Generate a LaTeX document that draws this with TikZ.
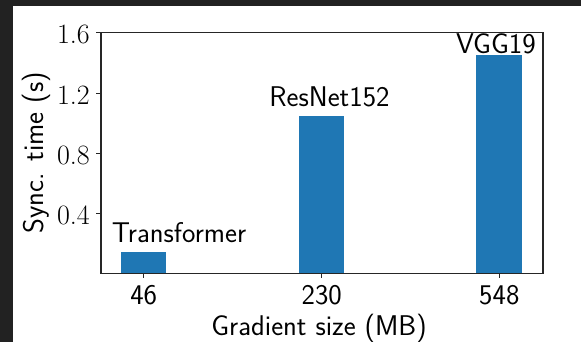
\documentclass[tikz,border=0pt]{standalone}
\usepackage{fontspec}
\definecolor{tabblue}{HTML}{1F77B4}
\definecolor{darkbg}{HTML}{222222}
\definecolor{axisc}{HTML}{262626}
\begin{document}
\begin{tikzpicture}[x=1pt,y=-1pt,
  lbl/.style={font=\sffamily\fontsize{28.5}{32}\selectfont, inner sep=0pt, text=black},
  ticklbl/.style={font=\rmfamily\fontsize{28}{32}\selectfont, inner sep=0pt, text=black},
  axisline/.style={draw=axisc, line width=1.3pt},
  bar/.style={fill=tabblue}]
\useasboundingbox (0,0) rectangle (581,342);
\fill[darkbg] (0,0) rectangle (581,342);
\fill[white] (13,6) rectangle (581,342);
% bars
\fill[bar] (120.7,273.3) rectangle (166.3,251.7);
\fill[bar] (298.5,273.3) rectangle (344.3,116);
\fill[bar] (476.3,273.3) rectangle (522.3,55);
% frame
\draw[axisline] (101,32.3) rectangle (543,273.3);
% y ticks
\foreach \yy/\lab/\nm in {32.3/1.6/ya, 93.3/1.2/yb, 153.3/0.8/yc, 213.3/0.4/yd}{
  \draw[axisline] (96,\yy) -- (101,\yy);
  \node[ticklbl, anchor=east] (\nm) at (90,\yy+2) {\lab};
}
% x ticks
\foreach \xx/\lab/\nm in {143.7/46/xa, 321.7/230/xb, 499.3/548/xc}{
  \draw[axisline] (\xx,273.3) -- (\xx,278.3);
  \node[lbl, anchor=base] (\nm) at (\xx,304) {\lab};
}
% bar labels
\node[lbl, anchor=base] (tr) at (179,242.7) {Transformer};
\node[lbl, anchor=base] (rn) at (329.5,106.7) {ResNet152};
\node[lbl, anchor=base] (vg) at (495.9,54) {VGG19};
% axis labels
\node[lbl, anchor=base] (xl) at (319,335) {Gradient size (MB)};
\node[lbl, rotate=90, anchor=center] (yl) at (36.5,153) {Sync. time (s)};
\end{tikzpicture}
\end{document}
